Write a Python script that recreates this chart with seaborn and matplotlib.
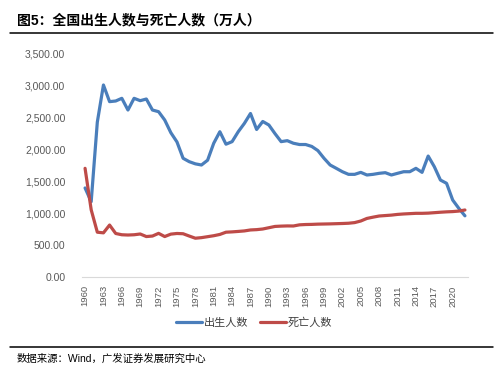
import numpy as np
import pandas as pd
import seaborn as sns
import matplotlib.pyplot as plt
from matplotlib.lines import Line2D

# data (万人)
years = list(range(1960, 2023))
births = [1391, 1177, 2420, 3000, 2740, 2750, 2792, 2609, 2792, 2755,
          2781, 2609, 2583, 2453, 2255, 2110, 1855, 1802, 1768, 1750,
          1825, 2090, 2270, 2075, 2115, 2270, 2400, 2555, 2305, 2430,
          2375, 2240, 2115, 2130, 2090, 2070, 2070, 2040, 1975, 1855,
          1750, 1698, 1645, 1604, 1604, 1635, 1594, 1604, 1620, 1630,
          1594, 1620, 1645, 1645, 1698, 1635, 1890, 1724, 1515, 1464,
          1203, 1073, 956]
deaths = [1698, 1050, 700, 690, 812, 680, 660, 656, 660, 672,
          632, 640, 682, 632, 670, 680, 676, 640, 606, 615,
          630, 645, 665, 700, 705, 712, 720, 735, 740, 750,
          770, 790, 795, 798, 797, 815, 820, 822, 826, 828,
          830, 833, 836, 840, 850, 875, 915, 935, 953, 960,
          967, 978, 985, 990, 995, 995, 998, 1005, 1012, 1018,
          1022, 1030, 1047]
series_names = ['出生人数', '死亡人数']
series_colors = ['#4a7ebb', '#be4b48']
y_ticks = [0, 500, 1000, 1500, 2000, 2500, 3000, 3500]

title = '图5：全国出生人数与死亡人数（万人）'
source = '数据来源：Wind，广发证券发展研究中心'

df = pd.DataFrame({'year': years, series_names[0]: births, series_names[1]: deaths})

sns.set_style('white')
plt.rcParams['font.family'] = ['Liberation Sans', 'Noto Sans CJK SC', 'DejaVu Sans']

fig = plt.figure(figsize=(5.03, 3.73), dpi=100)
ax = fig.add_axes([82 / 503, 1 - 277 / 373, (468 - 82) / 503, (277 - 53) / 373])

for name, color in zip(series_names, series_colors):
    sns.lineplot(data=df, x='year', y=name, ax=ax, color=color, linewidth=2.3,
                 label=name, solid_capstyle='round', solid_joinstyle='round')

ax.set_xlim(1959.5, 2022.5)
ax.set_ylim(0, 3500)
ax.set_yticks(y_ticks)
ax.set_yticklabels([f'{v:,.2f}' for v in y_ticks], fontsize=7.5, color='#595959')
ax.set_xticks(years[::3])
ax.set_xticklabels([str(y) for y in years[::3]], rotation=90, fontsize=6.8, color='#595959')
ax.set_xlabel('')
ax.set_ylabel('')

for s in ['left', 'right', 'top']:
    ax.spines[s].set_visible(False)
ax.spines['bottom'].set_color('#d9d9d9')
ax.spines['bottom'].set_linewidth(0.8)
ax.tick_params(axis='y', length=0, pad=12)
ax.tick_params(axis='x', length=3, color='#d9d9d9', width=0.8, pad=3)

ax.legend(loc='center', bbox_to_anchor=(254 / 503, 1 - 323 / 373),
          bbox_transform=fig.transFigure, ncol=2, frameon=False,
          handlelength=2.3, handletextpad=0.15, columnspacing=1.1,
          prop={'size': 8}, labelcolor='#404040')

# title, rules and source note
fig.text(17 / 503, 1 - 20 / 373, title, fontsize=10, fontweight='bold',
         va='center', ha='left', color='black')
fig.add_artist(Line2D([10 / 503, 493 / 503], [1 - 33 / 373] * 2, color='black', linewidth=1.1))
fig.add_artist(Line2D([10 / 503, 493 / 503], [1 - 347 / 373] * 2, color='black', linewidth=1.1))
fig.text(17 / 503, 1 - 359 / 373, source, fontsize=7.5, va='center', ha='left', color='black')

fig.savefig('out.png', dpi=100)
